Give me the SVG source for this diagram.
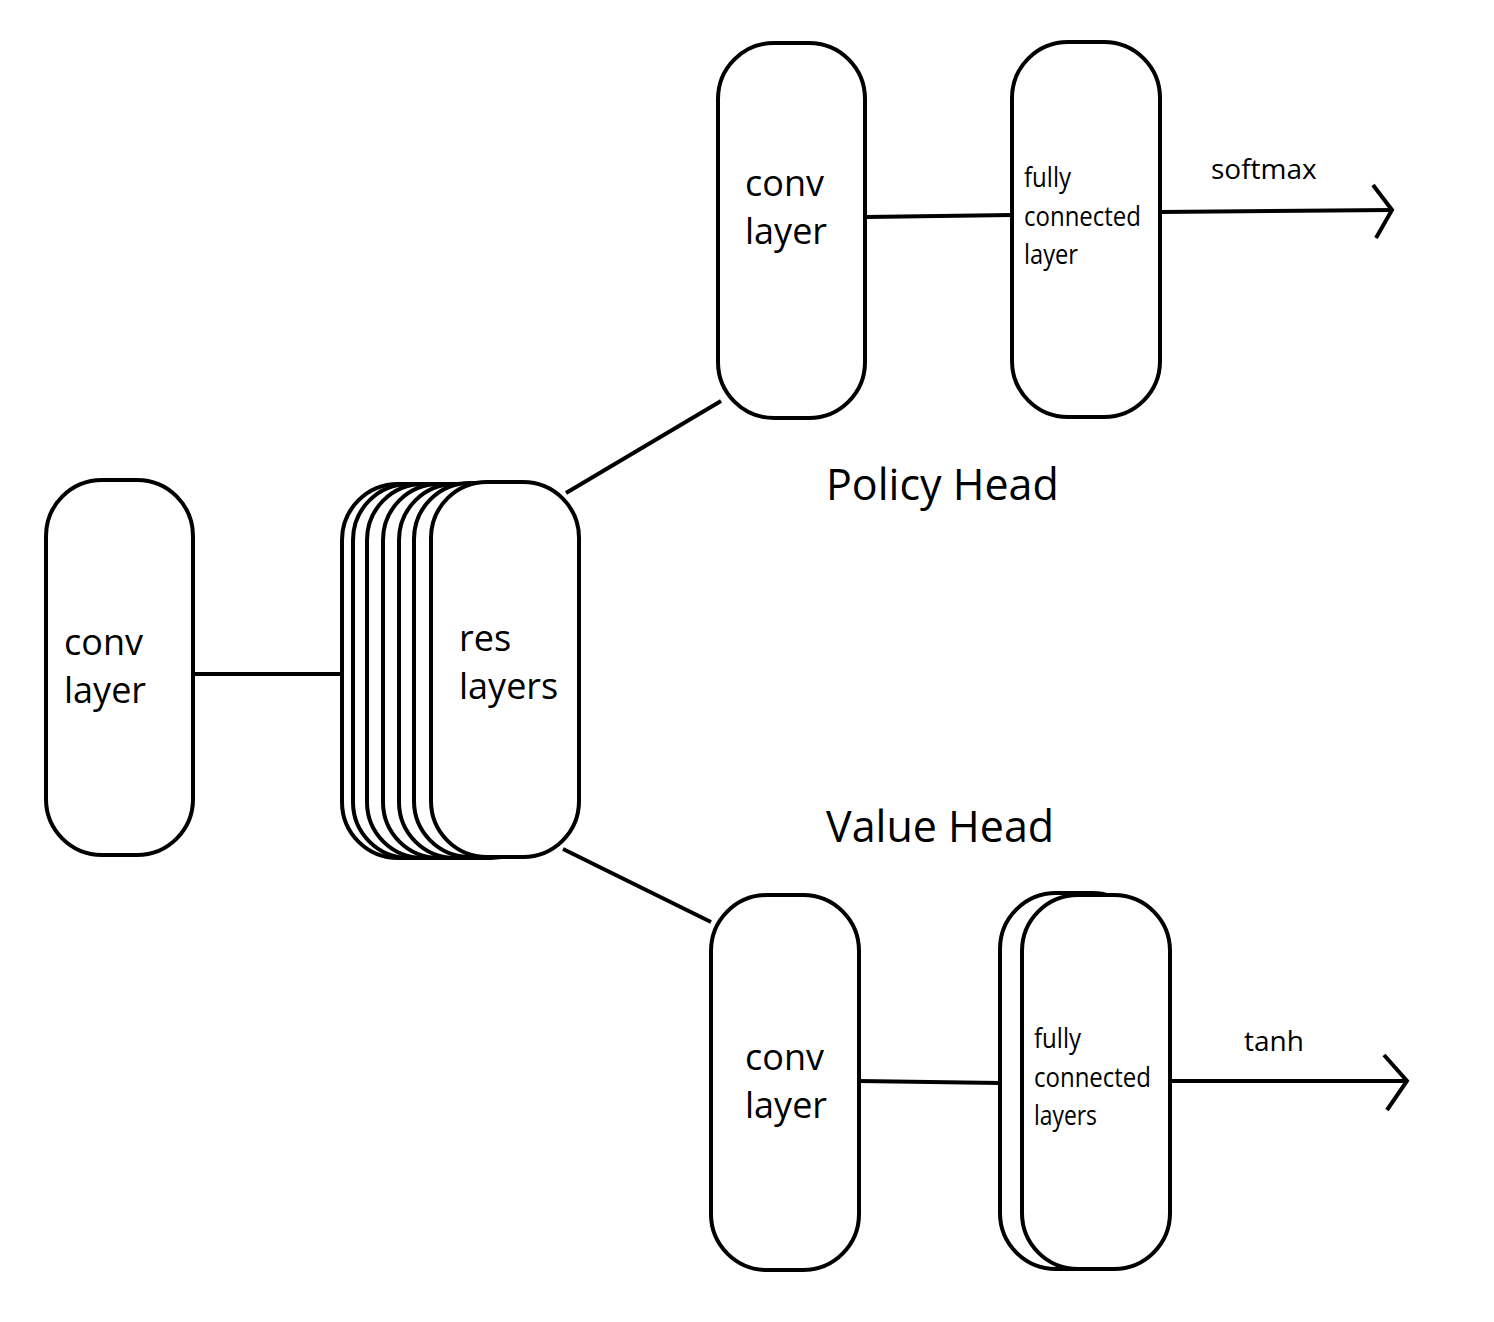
<svg xmlns="http://www.w3.org/2000/svg" width="1494" height="1322" viewBox="0 0 1494 1322">
<style>
.box{fill:#fff;stroke:#000;stroke-width:4}
.ln{fill:none;stroke:#000;stroke-width:4}
.big{font-family:"Open Sans","Liberation Sans",sans-serif;font-size:36px;fill:#000}
.sm{font-family:"Open Sans","Liberation Sans",sans-serif;font-size:27px;fill:#000}
.lab{font-family:"Open Sans","Liberation Sans",sans-serif;font-size:28px;fill:#000}
.head{font-family:"Open Sans","Liberation Sans",sans-serif;font-size:43px;fill:#000}
</style>
<rect width="1494" height="1322" fill="#fff"/>
<g id="connectors">
<line class="ln" x1="193" y1="674" x2="342" y2="674"/>
<line class="ln" x1="566" y1="493" x2="721" y2="401"/>
<line class="ln" x1="563" y1="849" x2="711" y2="922"/>
<line class="ln" x1="866" y1="217" x2="1012" y2="215"/>
<line class="ln" x1="1160" y1="212" x2="1392" y2="210"/>
<polyline class="ln" points="1373,185 1392,210 1376,238"/>
<line class="ln" x1="859" y1="1081" x2="1000" y2="1083"/>
<line class="ln" x1="1171" y1="1081" x2="1407" y2="1081"/>
<polyline class="ln" points="1384,1055 1407,1081 1387,1110"/>
</g>
<g id="conv-input">
<rect class="box" x="46" y="480" width="147" height="375" rx="56"/>
<text class="big" x="64" y="655">conv</text>
<text class="big" x="64" y="703">layer</text>
</g>
<g id="res-layers">
<rect class="box" x="342" y="484" width="148" height="374" rx="56"/>
<rect class="box" x="353" y="484" width="148" height="374" rx="56"/>
<rect class="box" x="367" y="484" width="148" height="374" rx="56"/>
<rect class="box" x="383" y="484" width="148" height="374" rx="56"/>
<rect class="box" x="399" y="484" width="148" height="374" rx="56"/>
<rect class="box" x="414" y="483" width="148" height="374" rx="56"/>
<rect class="box" x="431" y="482" width="148" height="375" rx="56"/>
<text class="big" x="459" y="651">res</text>
<text class="big" x="459" y="699">layers</text>
</g>
<g id="policy-conv">
<rect class="box" x="718" y="43" width="147" height="375" rx="56"/>
<text class="big" x="745" y="196">conv</text>
<text class="big" x="745" y="244">layer</text>
</g>
<g id="policy-fc">
<rect class="box" x="1012" y="42" width="148" height="375" rx="56"/>
<text class="sm" x="1024" y="187" textLength="47" lengthAdjust="spacingAndGlyphs">fully</text>
<text class="sm" x="1024" y="226" textLength="117" lengthAdjust="spacingAndGlyphs">connected</text>
<text class="sm" x="1024" y="264" textLength="54" lengthAdjust="spacingAndGlyphs">layer</text>
</g>
<g id="value-conv">
<rect class="box" x="711" y="895" width="148" height="375" rx="56"/>
<text class="big" x="745" y="1070">conv</text>
<text class="big" x="745" y="1118">layer</text>
</g>
<g id="value-fc">
<rect class="box" x="1000" y="893" width="148" height="376" rx="56"/>
<rect class="box" x="1022" y="895" width="148" height="374" rx="56"/>
<text class="sm" x="1034" y="1048" textLength="47" lengthAdjust="spacingAndGlyphs">fully</text>
<text class="sm" x="1034" y="1087" textLength="117" lengthAdjust="spacingAndGlyphs">connected</text>
<text class="sm" x="1034" y="1125" textLength="63" lengthAdjust="spacingAndGlyphs">layers</text>
</g>
<g id="labels">
<text class="lab" x="1211" y="179">softmax</text>
<text class="lab" x="1244" y="1051">tanh</text>
<text class="head" x="826" y="500">Policy Head</text>
<text class="head" x="826" y="842">Value Head</text>
</g>
</svg>
